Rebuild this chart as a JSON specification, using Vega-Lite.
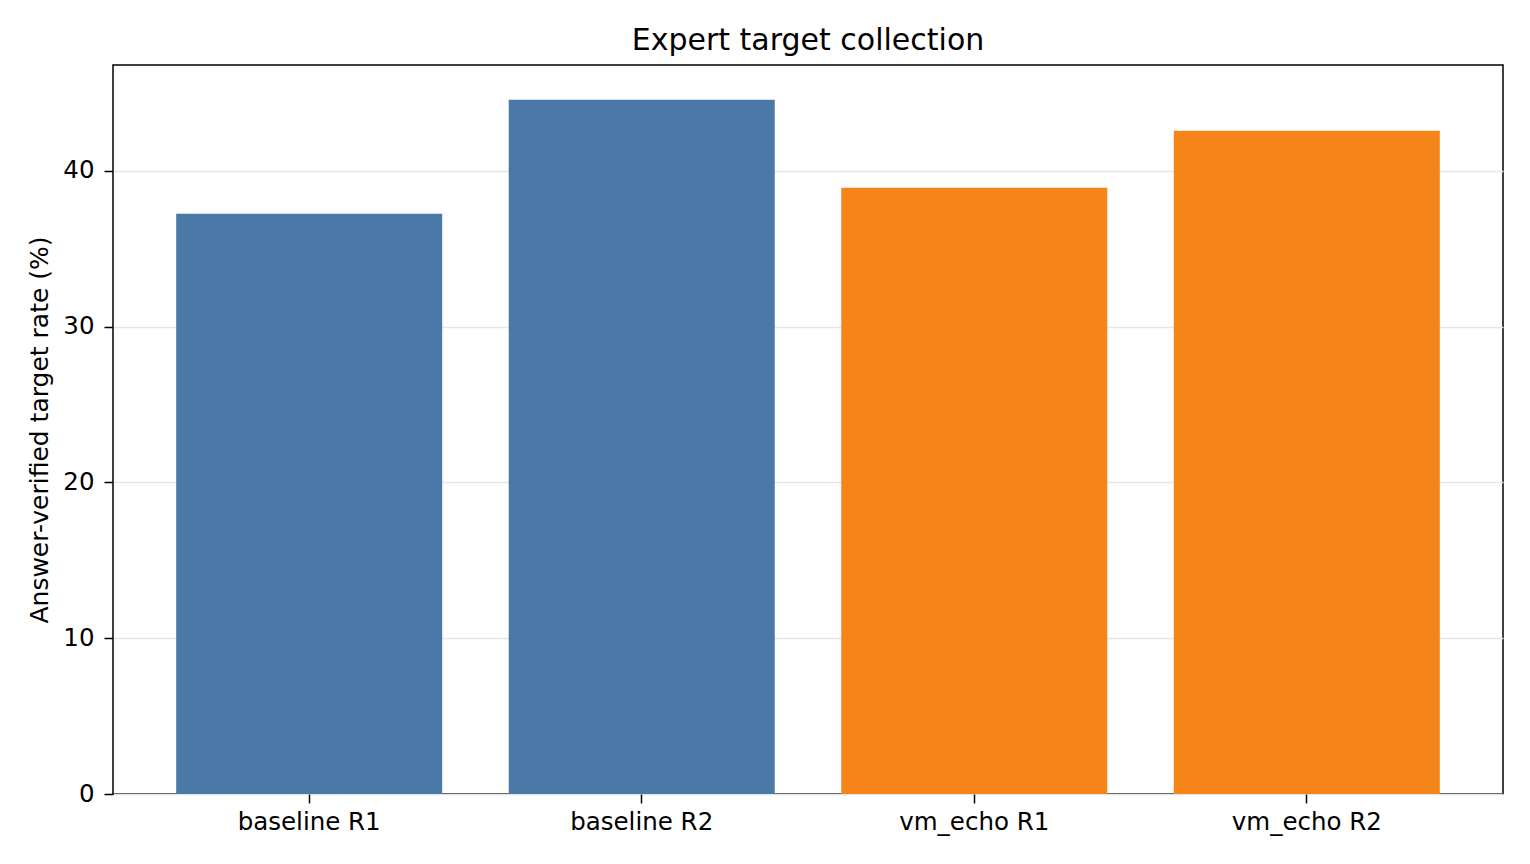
{
  "$schema": "https://vega.github.io/schema/vega-lite/v6.json",
  "autosize": {"type": "none"},
  "padding": {"left": 113, "top": 65, "right": 27, "bottom": 70},
  "width": 1390,
  "height": 729,
  "background": "white",
  "title": {
    "text": "Expert target collection",
    "font": "DejaVu Sans",
    "fontSize": 30,
    "fontWeight": "normal",
    "color": "black",
    "anchor": "middle",
    "offset": 9
  },
  "config": {
    "font": "DejaVu Sans",
    "view": {"stroke": "black", "strokeWidth": 1.5}
  },
  "data": {
    "values": [
      {"run": "baseline R1", "group": "baseline", "rate": 37.24},
      {"run": "baseline R2", "group": "baseline", "rate": 44.56},
      {"run": "vm_echo R1", "group": "vm_echo", "rate": 38.91},
      {"run": "vm_echo R2", "group": "vm_echo", "rate": 42.57}
    ]
  },
  "mark": {"type": "bar"},
  "encoding": {
    "x": {
      "field": "run",
      "type": "nominal",
      "sort": null,
      "scale": {"paddingInner": 0.2, "paddingOuter": 0.19},
      "axis": {
        "title": null,
        "labelAngle": 0,
        "labelFontSize": 24.5,
        "labelColor": "black",
        "labelPadding": 7,
        "tickColor": "black",
        "tickSize": 9,
        "tickWidth": 1.5,
        "domain": false,
        "grid": false
      }
    },
    "y": {
      "field": "rate",
      "type": "quantitative",
      "scale": {"domain": [0, 46.79], "nice": false},
      "axis": {
        "title": "Answer-verified target rate (%)",
        "titleFontSize": 25,
        "titleFontWeight": "normal",
        "titleColor": "black",
        "titlePadding": 10,
        "values": [0, 10, 20, 30, 40],
        "labelFontSize": 24.5,
        "labelColor": "black",
        "labelPadding": 10,
        "tickColor": "black",
        "tickSize": 9,
        "tickWidth": 1.5,
        "domain": false,
        "grid": true,
        "gridColor": "#e6e6e6",
        "gridWidth": 1.5
      }
    },
    "color": {
      "field": "group",
      "type": "nominal",
      "scale": {"domain": ["baseline", "vm_echo"], "range": ["#4c78a8", "#f58518"]},
      "legend": null
    }
  }
}
